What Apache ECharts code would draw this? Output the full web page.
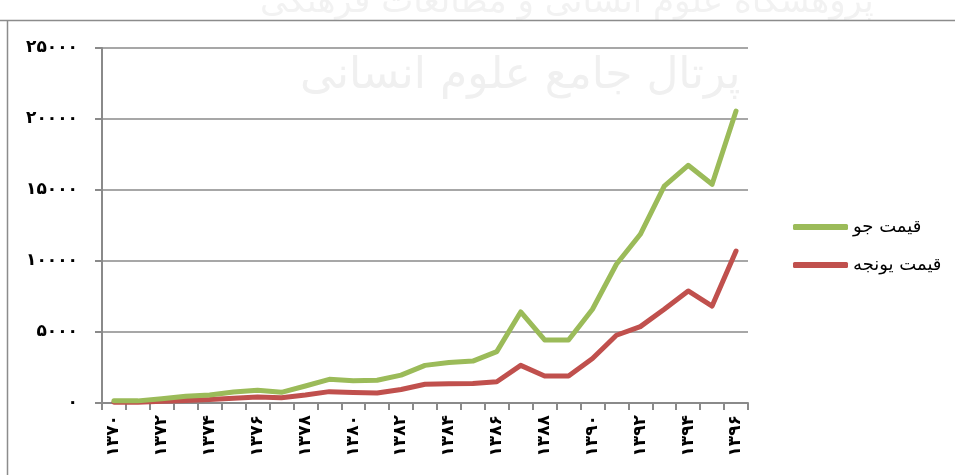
<!DOCTYPE html>
<html>
<head>
<meta charset="utf-8">
<script src="https://cdn.jsdelivr.net/npm/echarts@6/dist/echarts.min.js"></script>
<style>html,body{margin:0;padding:0;background:#fff}#c{width:955px;height:475px}</style>
</head>
<body>
<div id="c"></div>
<script>
var years = [1370,1371,1372,1373,1374,1375,1376,1377,1378,1379,1380,1381,1382,1383,1384,1385,1386,1387,1388,1389,1390,1391,1392,1393,1394,1395,1396];
var barleyName = 'قیمت جو';
var alfalfaName = 'قیمت یونجه';
var barley = [150,150,300,480,560,780,890,750,1200,1670,1560,1600,1960,2650,2850,2950,3620,6410,4440,4440,6600,9770,11880,15280,16740,15400,20560];
var alfalfa = [50,60,130,180,240,340,430,370,560,800,740,700,950,1320,1360,1370,1500,2650,1900,1900,3130,4770,5380,6600,7890,6830,10700];
var yTicks = [0,5000,10000,15000,20000,25000];

function fa(n){
  var d='۰۱۲۳۴۵۶۷۸۹';
  return String(n).replace(/[0-9]/g,function(c){return d[+c];});
}
var FONT = "'DejaVu Serif','DejaVu Sans',serif";
var chart = echarts.init(document.getElementById('c'));
chart.setOption({
  animation:false,
  backgroundColor:'#fff',
  grid:{left:102,right:207,top:48,bottom:72,containLabel:false},
  graphic:[
    {type:'line',shape:{x1:0,y1:20.5,x2:955,y2:20.5},style:{stroke:'#8c8c8c',lineWidth:1.5}},
    {type:'line',shape:{x1:7.5,y1:20,x2:7.5,y2:475},style:{stroke:'#8c8c8c',lineWidth:1.5}},
    {type:'text',left:300,top:55,z:-1,style:{text:'پرتال جامع علوم انسانی',fontSize:44,fontFamily:FONT,fill:'#f0f0f0'}},
    {type:'text',left:260,top:-14,z:-1,style:{text:'پژوهشگاه علوم انسانی و مطالعات فرهنگی',fontSize:34,fontFamily:FONT,fill:'#f2f2f2'}}
  ],
  legend:{
    orient:'vertical',left:788,top:213,itemGap:20,
    icon:'roundRect',itemWidth:55,itemHeight:6,
    textStyle:{fontSize:18,fontFamily:FONT,color:'#000'},
    data:[barleyName,alfalfaName]
  },
  xAxis:{
    type:'category',boundaryGap:true,
    data:years.map(fa),
    axisLine:{lineStyle:{color:'#8a8a8a',width:2}},
    axisTick:{show:true,interval:0,length:7,lineStyle:{color:'#8a8a8a',width:2}},
    axisLabel:{interval:1,rotate:90,margin:12,fontSize:17,fontWeight:'bold',fontFamily:FONT,color:'#000'},
    splitLine:{show:false}
  },
  yAxis:{
    type:'value',min:0,max:25000,interval:5000,
    axisLine:{show:true,lineStyle:{color:'#8a8a8a',width:2}},
    axisTick:{show:true,length:7,lineStyle:{color:'#8a8a8a',width:2}},
    axisLabel:{margin:24,fontSize:17,fontWeight:'bold',fontFamily:FONT,color:'#000',formatter:function(v){return fa(v);}},
    splitLine:{show:true,lineStyle:{color:'#8a8a8a',width:1.5}}
  },
  series:[
    {name:barleyName,type:'line',data:barley,symbol:'none',color:'#9BBB59',lineStyle:{width:5,color:'#9BBB59',cap:'round',join:'round'},z:3},
    {name:alfalfaName,type:'line',data:alfalfa,symbol:'none',color:'#C0504D',lineStyle:{width:5,color:'#C0504D',cap:'round',join:'round'},z:2}
  ]
});
</script>
</body>
</html>
